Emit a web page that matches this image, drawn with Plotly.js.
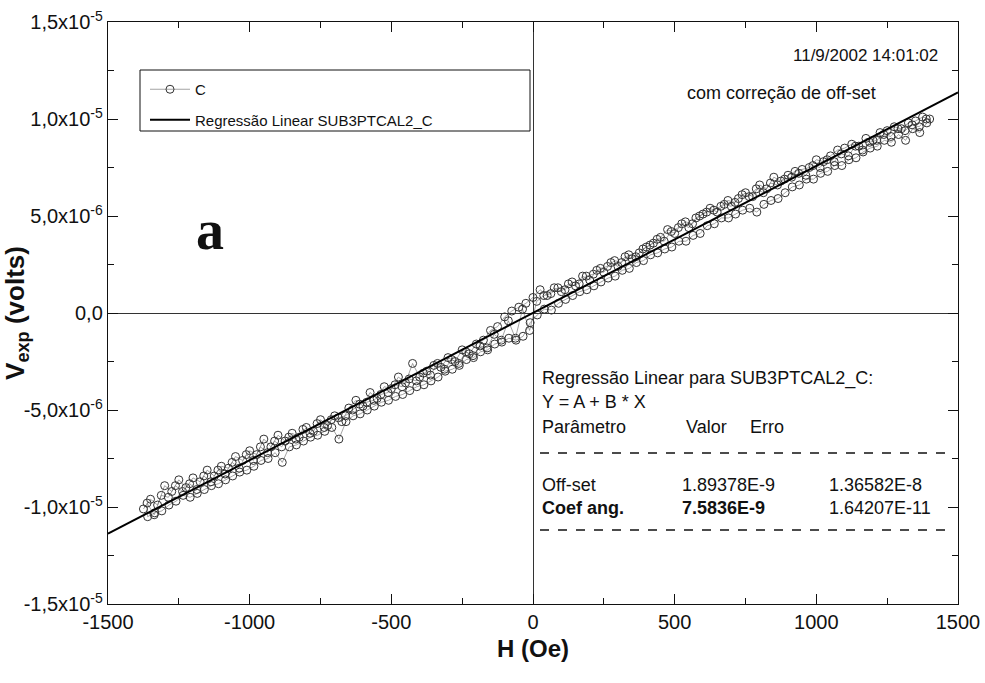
<!DOCTYPE html>
<html>
<head>
<meta charset="utf-8">
<script src="https://cdn.plot.ly/plotly-3.0.1.min.js"></script>
<style>html,body{margin:0;padding:0;background:#fff;}#chart{width:985px;height:683px;}</style>
</head>
<body>
<div id="chart"></div>
<script>
// Field sweep up (Oe) and measured voltage (µV)
var sweepUpH = [-1375,-1350,-1325,-1300,-1275,-1250,-1225,-1200,-1175,-1150,-1125,-1100,-1075,-1050,-1025,-1000,-975,-950,-925,-900,-875,-850,-825,-800,-775,-750,-725,-700,-675,-650,-625,-600,-575,-550,-525,-500,-475,-450,-425,-400,-375,-350,-325,-300,-275,-250,-225,-200,-175,-150,-125,-100,-75,-50,-25,0,25,50,75,100,125,150,175,200,225,250,275,300,325,350,375,400,425,450,475,500,525,550,575,600,625,650,675,700,725,750,775,800,825,850,875,900,925,950,975,1000,1025,1050,1075,1100,1125,1150,1175,1200,1225,1250,1275,1300,1325,1350,1375,1400];
var sweepUpV = [-10.1,-9.6,-9.9,-8.9,-9.2,-8.6,-9.0,-8.5,-8.7,-8.1,-8.4,-7.9,-8.0,-7.4,-7.6,-7.1,-7.3,-6.5,-6.9,-6.3,-6.6,-6.2,-6.4,-5.9,-6.1,-5.5,-5.8,-5.3,-5.6,-4.9,-4.5,-4.8,-4.1,-4.4,-3.8,-3.9,-3.3,-3.6,-2.6,-3.3,-3.0,-2.7,-2.8,-2.3,-2.5,-1.9,-2.1,-1.6,-1.4,-0.9,-0.7,-0.2,0.1,0.3,0.5,0.8,1.2,0.9,1.3,1.1,1.5,1.4,1.9,1.7,2.2,2.1,2.6,2.4,2.9,2.8,3.1,3.4,3.6,3.9,4.3,4.1,4.6,4.4,4.9,5.1,5.4,5.2,5.6,5.5,5.9,6.2,6.0,6.6,6.4,7.0,6.8,7.1,7.3,7.4,7.5,7.9,7.8,8.1,8.4,8.5,8.7,8.6,9.0,8.9,9.3,9.4,9.6,9.5,9.8,9.9,10.1,10.0];
// Field sweep down (Oe) and measured voltage (µV)
var sweepDownH = [1390,1365,1340,1315,1290,1265,1240,1215,1190,1165,1140,1115,1090,1065,1040,1015,990,965,940,915,890,865,840,815,790,765,740,715,690,665,640,615,590,565,540,515,490,465,440,415,390,365,340,315,290,265,240,215,190,165,140,115,90,65,40,15,-10,-35,-60,-85,-110,-135,-160,-185,-210,-235,-260,-285,-310,-335,-360,-385,-410,-435,-460,-485,-510,-535,-560,-585,-610,-635,-660,-685,-710,-735,-760,-785,-810,-835,-860,-885,-910,-935,-960,-985,-1010,-1035,-1060,-1085,-1110,-1135,-1160,-1185,-1210,-1235,-1260,-1285,-1310,-1335,-1360];
var sweepDownV = [9.8,9.3,9.5,8.9,9.2,8.8,8.9,8.6,8.5,8.3,8.0,7.9,7.6,7.6,7.3,7.2,6.9,6.9,6.6,6.5,6.2,5.9,5.8,5.6,5.2,5.4,5.3,5.1,4.9,4.9,4.6,4.5,4.1,4.0,3.7,3.7,3.4,3.3,3.1,3.0,2.7,2.6,2.3,2.2,1.9,1.8,1.6,1.4,1.2,1.1,0.9,0.7,0.5,0.15,0.2,-0.1,-0.5,-1.2,-1.4,-1.3,-1.5,-1.6,-1.9,-2.0,-2.3,-2.4,-2.7,-2.9,-3.0,-3.3,-3.5,-3.7,-3.8,-4.0,-4.2,-4.3,-4.5,-4.6,-4.8,-5.0,-5.2,-5.3,-5.6,-6.5,-5.9,-6.1,-6.3,-6.4,-6.6,-6.8,-6.9,-7.7,-7.2,-7.5,-7.6,-7.9,-8.1,-8.2,-8.4,-8.6,-8.8,-8.9,-9.1,-9.3,-9.5,-9.4,-9.7,-9.9,-10.2,-10.3,-10.5];
// Second upward sweep (Oe) and measured voltage (µV)
var sweepUp2H = [-1362,-1337,-1312,-1287,-1262,-1237,-1212,-1187,-1162,-1137,-1112,-1087,-1062,-1037,-1012,-987,-962,-937,-912,-887,-862,-837,-812,-787,-762,-737,-712,-687,-662,-637,-612,-587,-562,-537,-512,-487,-462,-437,-412,-387,-362,-337,-312,-287,-262,-237,-212,-187,-162,-137,-112,-87,-62,-37,-12,13,38,63,88,113,138,163,188,213,238,263,288,313,338,363,388,413,438,463,488,513,538,563,588,613,638,663,688,713,738,763,788,813,838,863,888,913,938,963,988,1013,1038,1063,1088,1113,1138,1163,1188,1213,1238,1263,1288,1313,1338,1363,1388];
var sweepUp2V = [-9.8,-10.4,-9.4,-9.5,-8.9,-9.2,-8.8,-9.1,-8.4,-8.7,-8.1,-8.3,-7.7,-8.0,-7.3,-7.6,-6.9,-7.2,-6.6,-6.9,-6.4,-6.5,-6.0,-6.2,-5.7,-5.9,-5.5,-5.4,-5.3,-5.0,-4.7,-4.6,-4.5,-4.2,-4.1,-3.7,-3.8,-3.4,-3.5,-3.1,-3.2,-2.6,-2.9,-2.4,-2.6,-2.0,-2.2,-1.7,-1.8,-1.1,-1.4,-0.4,-1.3,0.2,-0.9,0.6,0.9,1.0,1.3,1.2,1.6,1.5,1.9,2.0,2.3,2.4,2.7,2.6,3.0,2.9,3.3,3.5,3.8,3.7,4.2,4.4,4.7,4.6,5.0,5.2,5.3,5.5,5.8,5.7,6.1,6.0,6.4,6.2,6.7,6.6,6.9,7.0,7.2,7.1,7.6,7.5,7.9,7.8,8.2,8.1,8.6,8.4,8.8,8.9,9.2,9.1,9.5,9.4,9.7,9.6,10.0];
// Regression line endpoints (V = A + B*H)
var regH = [-1500, 1500];
var regV = [-1.13735e-5, 1.13773e-5];
// Tick labels
var xTickVals = [-1500,-1000,-500,0,500,1000,1500];
var xTickText = ['-1500','-1000','-500','0','500','1000','1500'];
var yTickVals = [-1.5e-5,-1.0e-5,-5e-6,0,5e-6,1.0e-5,1.5e-5];
var yTickText = ['-1,5x10<sup>-5</sup>','-1,0x10<sup>-5</sup>','-5,0x10<sup>-6</sup>','0,0','5,0x10<sup>-6</sup>','1,0x10<sup>-5</sup>','1,5x10<sup>-5</sup>'];

var H = sweepUpH.concat(sweepDownH, sweepUp2H);
var V = sweepUpV.concat(sweepDownV, sweepUp2V).map(function(v){return v*1e-6;});

var FONT = 'Liberation Sans, Arial, sans-serif';
var traces = [
  {x:H, y:V, mode:'lines+markers', name:'C', legendgroup:'a',
   line:{color:'#666', width:0.6},
   marker:{symbol:'circle-open', size:8, color:'#333', line:{width:1, color:'#333'}}},
  {x:regH, y:regV, mode:'lines', name:'Regressão Linear SUB3PTCAL2_C', legendgroup:'b',
   line:{color:'#000', width:2}}
];

function px(X){return (X-108)/850;}
function py(Y){return (604-Y)/582;}

var ann = [];
function txt(t, X, Y, size, anchor){
  ann.push({text:t, xref:'paper', yref:'paper', x:px(X), y:py(Y), showarrow:false,
    xanchor:anchor||'left', yanchor:'middle', font:{family:FONT, size:size, color:'#111'}});
}
txt('11/9/2002 14:01:02', 940, 55, 17, 'right');
txt('com correção de off-set', 685, 93, 18, 'left');
ann.push({text:'<b>a</b>', xref:'paper', yref:'paper', x:px(210), y:py(230), showarrow:false,
  xanchor:'center', yanchor:'middle', font:{family:'Liberation Serif, Times New Roman, serif', size:56, color:'#111'}});
txt('Regressão Linear para SUB3PTCAL2_C:', 540, 378, 18);
txt('Y = A + B * X', 540, 402, 18);
txt('Parâmetro', 540, 427, 18);
txt('Valor', 684, 427, 18);
txt('Erro', 748, 427, 18);
txt('Off-set', 540, 485, 18);
txt('1.89378E-9', 680, 485, 18);
txt('1.36582E-8', 827, 485, 18);
txt('<b>Coef ang.</b>', 540, 508, 18);
txt('<b>7.5836E-9</b>', 680, 508, 18);
txt('1.64207E-11', 827, 508, 18);

var shapes = [
  {type:'line', xref:'paper', yref:'paper', x0:px(540), x1:px(945), y0:py(453), y1:py(453), line:{color:'#111', width:1.5, dash:'dash'}},
  {type:'line', xref:'paper', yref:'paper', x0:px(540), x1:px(945), y0:py(530), y1:py(530), line:{color:'#111', width:1.5, dash:'dash'}},
  {type:'rect', xref:'paper', yref:'paper', x0:px(140), x1:px(530), y0:py(131), y1:py(70), line:{color:'#111', width:1}, fillcolor:'rgba(0,0,0,0)', layer:'above'}
];

var axisCommon = {
  showline:true, linecolor:'#111', linewidth:1.2, mirror:'ticks',
  ticks:'inside', ticklen:10, tickwidth:1, tickcolor:'#111',
  showgrid:false, zeroline:true, zerolinecolor:'#333', zerolinewidth:1,
  tickfont:{family:FONT, size:20, color:'#111'}
};

var layout = {
  width:985, height:683,
  margin:{l:108, r:27, t:22, b:79},
  paper_bgcolor:'#fff', plot_bgcolor:'#fff',
  showlegend:true,
  legend:{x:px(145), y:py(73), xanchor:'left', yanchor:'top', bgcolor:'rgba(255,255,255,0)',
    borderwidth:0, font:{family:FONT, size:15, color:'#111'}, itemwidth:40,
    traceorder:'grouped', tracegroupgap:8},
  xaxis: Object.assign({}, axisCommon, {
    range:[-1500,1500], tickmode:'array', tickvals:xTickVals, ticktext:xTickText,
    minor:{tickmode:'linear', tick0:0, dtick:250, ticks:'inside', ticklen:6, tickcolor:'#111'},
    title:{text:'<b>H (Oe)</b>', font:{family:FONT, size:24, color:'#111'}, standoff:8}
  }),
  yaxis: Object.assign({}, axisCommon, {
    range:[-1.5e-5,1.5e-5], tickmode:'array', tickvals:yTickVals, ticktext:yTickText,
    minor:{tickmode:'linear', tick0:0, dtick:2.5e-6, ticks:'inside', ticklen:6, tickcolor:'#111'},
    title:{text:'<b>V<sub>exp</sub> (volts)</b>', font:{family:FONT, size:26, color:'#111'}, standoff:6}
  }),
  annotations:ann,
  shapes:shapes
};

Plotly.newPlot('chart', traces, layout, {displayModeBar:false, staticPlot:true});
</script>
</body>
</html>
